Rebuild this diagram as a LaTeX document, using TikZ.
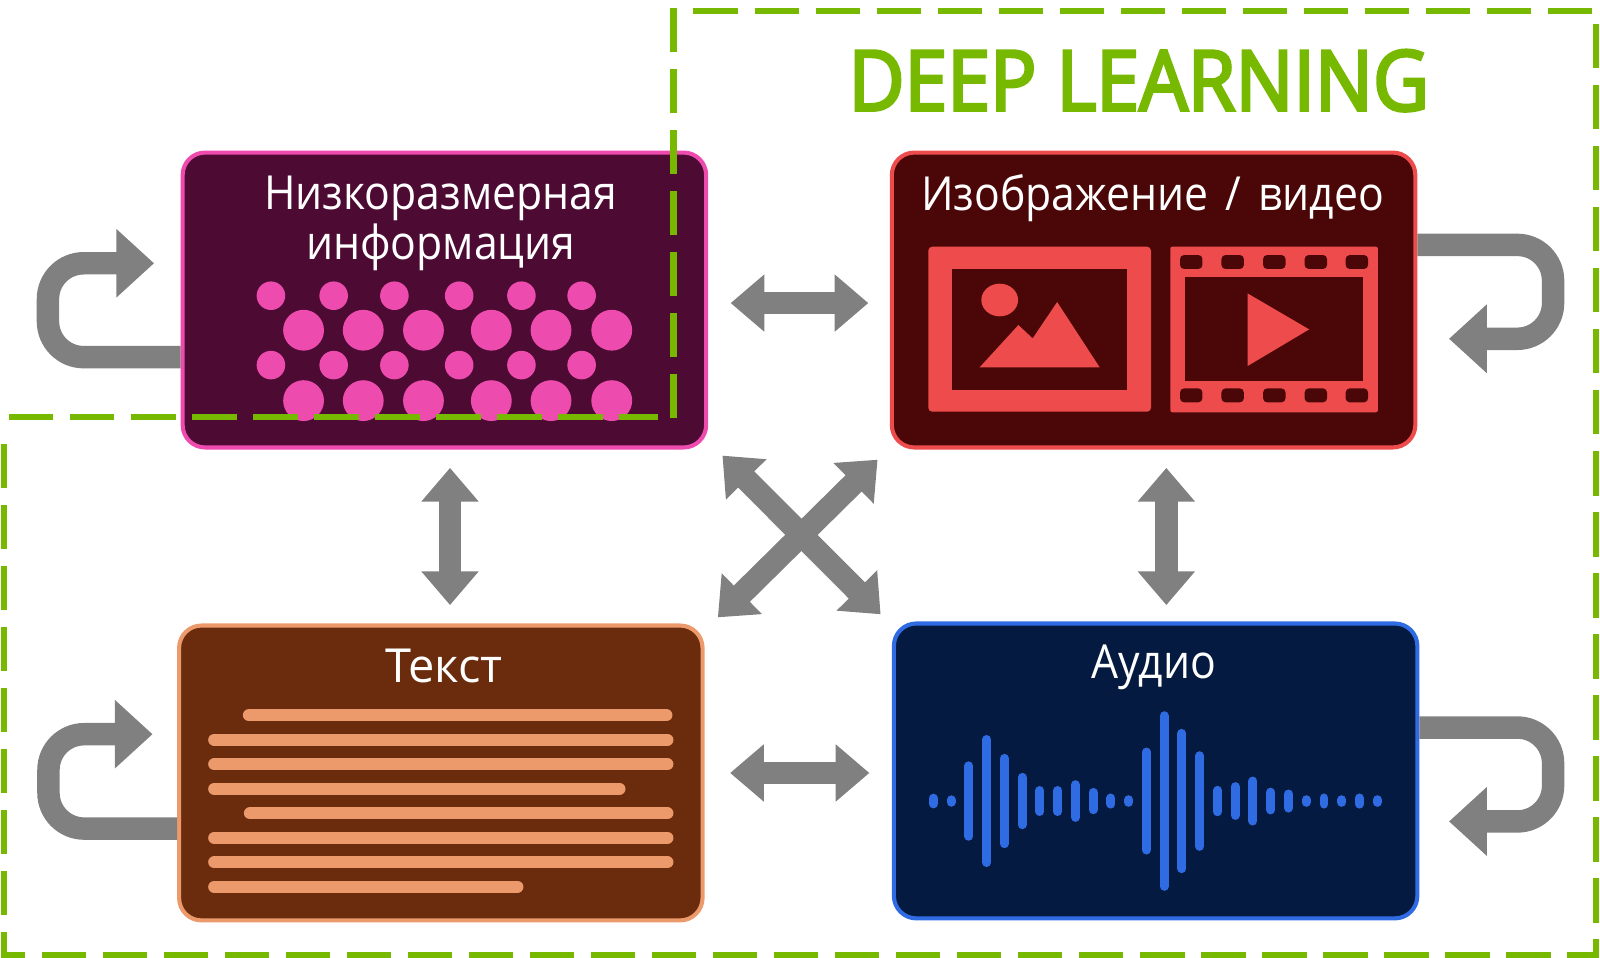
\documentclass[tikz,border=0pt]{standalone}
\usepackage{xcolor}
\usepackage{fontspec}
\setmainfont{Open Sans}
\newfontfamily\panelfont[FakeStretch=0.91]{Open Sans}
\newfontfamily\deepfont[FakeStretch=0.92,FakeBold=3.5]{Open Sans}
\usetikzlibrary{arrows.meta,calc,positioning}
\definecolor{nvgreen}{HTML}{76B900}
\definecolor{arrowgray}{HTML}{808080}
\definecolor{lowfill}{HTML}{4D0A33}
\definecolor{lowline}{HTML}{EE4BAE}
\definecolor{imgfill}{HTML}{4B0707}
\definecolor{imgline}{HTML}{EE4C4C}
\definecolor{txtfill}{HTML}{6B2C0E}
\definecolor{txtline}{HTML}{EC9A6C}
\definecolor{audfill}{HTML}{051A40}
\definecolor{audline}{HTML}{2F6BE3}
\tikzset{
    panel/.style={draw, line width=2pt, rounded corners=11pt, minimum width=256.5pt, minimum height=144.5pt, inner sep=0pt},
    title/.style={text=white, font=\panelfont\fontsize{23}{24.5}\selectfont, align=center, inner sep=0pt},
    both/.style={draw=arrowgray, line width=11.2pt, {Triangle[length=16.5pt,width=27pt]}-{Triangle[length=16.5pt,width=27pt]}},
    loop/.style={draw=arrowgray, line width=11pt, rounded corners=17.5pt, -{Triangle[length=18.5pt,width=32.5pt]}},
    border/.style={draw=nvgreen, line width=3pt, dash pattern=on 21.7pt off 8.2pt},
}
\begin{document}
\begin{tikzpicture}[x=0.5pt, y=-0.5pt]
    \useasboundingbox (0,0) rectangle (1568,938);

    \node (lowbox) at (435.5,294) [panel, fill=lowfill, draw=lowline] {};
    \node (imgbox) at (1130.5,294) [panel, fill=imgfill, draw=imgline] {};
    \node (txtbox) at (432,757.5) [panel, fill=txtfill, draw=txtline] {};
    \node (audbox) at (1132.5,755.5) [panel, fill=audfill, draw=audline] {};

    \node (lowtitle) at (432,219) [title] {Низкоразмерная\\информация};
    \node (imgtitle) at (1129.5,194) [title] {Изображение\hspace{3pt} / \hspace{3pt}видео};
    \node (txttitle) at (435,653) [title, font=\fontsize{23}{24.5}\selectfont] {Текст};
    \node (audtitle) at (1130.5,654) [title] {Аудио};

    \node (dltitle) at (1116,79) [text=nvgreen, font=\deepfont\fontsize{41}{41}\selectfont, inner sep=0pt] {DEEP LEARNING};

    % arrows between panels
    \draw[both] ([shift={(22,3)}]lowbox.east) -- ([shift={(-21,3)}]imgbox.west);
    \draw[both] ([shift={(25,0)}]txtbox.east) -- ([shift={(-22,2)}]audbox.west);
    \draw[both] ([shift={(5.5,18)}]lowbox.south) -- ([shift={(9,-18)}]txtbox.north);
    \draw[both] ([shift={(12.5,18)}]imgbox.south) -- ([shift={(10.5,-16)}]audbox.north);
    \draw[both] ([shift={(14,6)}]lowbox.south east) -- ([shift={(-11,-7)}]audbox.north west);
    \draw[both] ([shift={(-12,10)}]imgbox.south west) -- ([shift={(13,-6)}]txtbox.north east);

    % self loops
    \draw[loop, shorten >=13pt] ([shift={(0,56)}]lowbox.west) -- ++(-130,0) -- ++(0,-92) -- ([shift={(0,-36)}]lowbox.west);
    \draw[loop, shorten >=12pt] ([shift={(0,54.5)}]txtbox.west) -- ++(-126,0) -- ++(0,-92.5) -- ([shift={(0,-38)}]txtbox.west);
    \draw[loop, shorten >=15.5pt] ([shift={(0,-54)}]imgbox.east) -- ++(133,0) -- ++(0,92) -- ([shift={(0,38)}]imgbox.east);
    \draw[loop, shorten >=14.5pt] ([shift={(0,-42.5)}]audbox.east) -- ++(131,0) -- ++(0,92) -- ([shift={(0,49.5)}]audbox.east);

    % points
    \foreach \x in {265.5,327,386.5,450,511,570} {
        \foreach \y in {289.8,357.8} {
            \fill[lowline] (\x,\y) circle [radius=14];
        }
    }
    \foreach \x in {297.5,356,415,481.5,540,599.5} {
        \foreach \y in {323.6,392.6} {
            \fill[lowline] (\x,\y) circle [radius=20];
        }
    }

    % picture icon
    \fill[imgline, rounded corners=2pt] (909.7,241.7) rectangle (1128,403.5);
    \fill[imgfill] (933.4,263.3) rectangle (1104.4,382.2);
    \fill[imgline] (979.7,294) ellipse [x radius=18, y radius=16];
    \fill[imgline] (960,360) -- (998,318.5) -- (1012,331.6) -- (1036,296) -- (1077.7,360) -- cycle;

    % film icon
    \fill[imgline, rounded corners=1pt] (1146.9,241.7) rectangle (1350.3,404);
    \fill[imgfill] (1161.3,271.8) rectangle (1335.9,373.7);
    \foreach \x in {1167.4,1208,1248.8,1289.5,1329.7} {
        \fill[imgfill, rounded corners=2pt] (\x-11,249.9) rectangle (\x+11,263.6);
        \fill[imgfill, rounded corners=2pt] (\x-11,380.6) rectangle (\x+11,394.3);
    }
    \fill[imgline] (1222.6,287.5) -- (1283,322.8) -- (1222.6,358.7) -- cycle;

    % text lines
    \foreach \xa/\xb/\yy in {244/653/701, 210/654/725, 210/654/749, 210/607/773, 245/654/797, 210/654/821, 210/654/845, 210/507/869} {
        \draw[txtline, line width=6pt, line cap=round] (\xa,\yy) -- (\xb,\yy);
    }

    % waveform
    \foreach \h [count=\i from 0] in {2.8,1.2,34.5,60.3,41.8,23.2,10.3,10.3,16,8.5,3,1.3,48,83.6,66.3,44.4,10.5,14.1,19.6,8.7,6.9,1.3,3,1.3,3,1.3} {
        \draw[audline, line width=4.4pt, line cap=round] (914.7+17.4*\i,785-\h) -- (914.7+17.4*\i,785+\h);
    }

    % dashed region
    \draw[border] (660,410) -- (660,11) -- (1564,11) -- (1564,936) -- (4,936) -- (4,420);
    \draw[border] (9,409) -- (645,409);
\end{tikzpicture}
\end{document}
